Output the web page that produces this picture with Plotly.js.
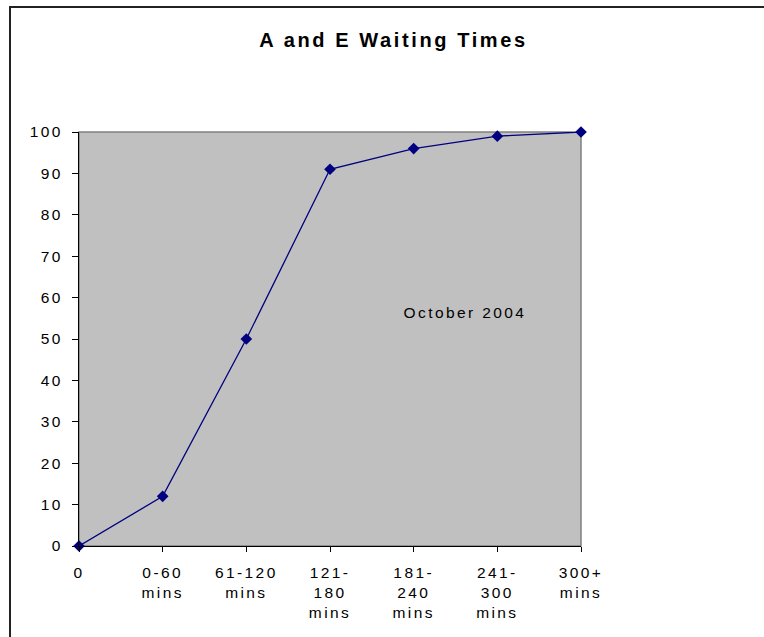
<!DOCTYPE html>
<html>
<head>
<meta charset="utf-8">
<script src="https://cdn.plot.ly/plotly-3.0.1.min.js"></script>
<style>
  html, body { margin: 0; padding: 0; background: #fff; }
  #wrap { position: relative; width: 764px; height: 637px; overflow: hidden; }
  #chart { width: 764px; height: 637px; }
  #frame { position: absolute; left: 9px; top: 6px; width: 820px; height: 700px;
           border: 2px solid #222; pointer-events: none; box-sizing: border-box; }
  #chart .xtick text, #chart .ytick text, #chart .annotation-text { letter-spacing: 2.4px; }
  #chart .gtitle { letter-spacing: 2.6px; }
</style>
</head>
<body>
<div id="wrap">
  <div id="chart"></div>
  <div id="frame"></div>
</div>
<script>
const categories = ["0", "0-60<br>mins", "61-120<br>mins", "121-<br>180<br>mins", "181-<br>240<br>mins", "241-<br>300<br>mins", "300+<br>mins"];
const percentSeen = [0, 12, 50, 91, 96, 99, 100];
const yTicks = [0, 10, 20, 30, 40, 50, 60, 70, 80, 90, 100];
const chartTitle = "A and E Waiting Times";
const noteText = "October 2004";

const xIdx = categories.map((_, i) => i);
const font = "Liberation Sans, Arial, sans-serif";

Plotly.newPlot("chart", [{
  x: xIdx,
  y: percentSeen,
  type: "scatter",
  mode: "lines+markers",
  line: { color: "#000080", width: 1.3 },
  marker: { symbol: "diamond", size: 9, color: "#000080" },
  cliponaxis: false,
  hoverinfo: "skip"
}], {
  width: 764, height: 637,
  margin: { l: 79, r: 183, t: 132, b: 91 },
  paper_bgcolor: "#ffffff",
  plot_bgcolor: "#c0c0c0",
  showlegend: false,
  title: { text: "<b>" + chartTitle + "</b>", x: 0.515, xanchor: "center", y: 0.937, yanchor: "middle",
           font: { family: font, size: 20, color: "#000" } },
  xaxis: {
    range: [0, 6], tickvals: xIdx, ticktext: categories,
    showgrid: false, zeroline: false,
    showline: true, linecolor: "#000", linewidth: 1.2,
    ticks: "outside", ticklen: 5, tickcolor: "#000", tickwidth: 1,
    tickangle: 0, ticklabelstandoff: 7,
    tickfont: { family: font, size: 15.5, color: "#000" }
  },
  yaxis: {
    range: [0, 100], tickvals: yTicks,
    showgrid: false, zeroline: false,
    showline: true, linecolor: "#000", linewidth: 1.2,
    ticks: "outside", ticklen: 6, tickcolor: "#000", tickwidth: 1,
    ticklabelstandoff: 6,
    tickfont: { family: font, size: 15.5, color: "#000" }
  },
  shapes: [{
    type: "rect", xref: "paper", yref: "paper", x0: 0, x1: 1, y0: 0, y1: 1,
    line: { color: "#808080", width: 1.5 }, layer: "below"
  }],
  annotations: [{
    x: 4.61, y: 56.5, xref: "x", yref: "y", text: noteText, showarrow: false,
    font: { family: font, size: 15.5, color: "#000" }
  }]
}, { staticPlot: true });
</script>
</body>
</html>
